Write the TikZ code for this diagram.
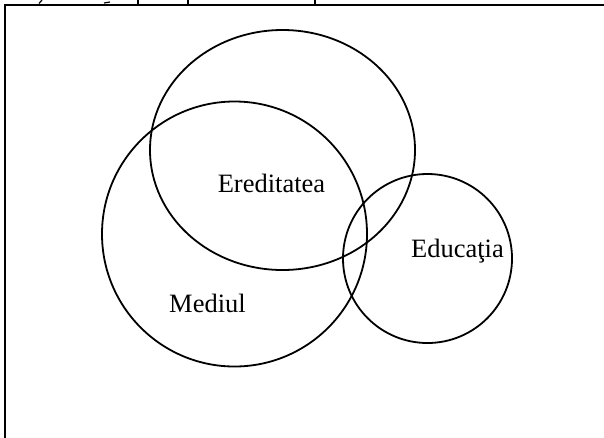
\documentclass[tikz,border=0pt]{standalone}
\usepackage{fontspec}
\setmainfont{Liberation Serif}
\usetikzlibrary{shapes.geometric}
\begin{document}
\begin{tikzpicture}[x=1pt,y=-1pt,
  ring/.style={draw, ellipse, line width=1.8pt, inner sep=0pt},
  lbl/.style={anchor=base, inner sep=0pt, font=\fontsize{26.5}{30}\selectfont},
  frame/.style={line width=2.2pt}]
\useasboundingbox (0,0) rectangle (604,437);
% frame (continues past the right and bottom edges)
\coordinate (fbl) at (5,440);
\coordinate (ftl) at (5,5);
\coordinate (ftr) at (610,5);
\draw[frame] (fbl) -- (ftl) -- (ftr);
% fragments of the cut-off row above
\coordinate (t1a) at (138,0); \coordinate (t1b) at (138,5);
\coordinate (t2a) at (188,0); \coordinate (t2b) at (188,5);
\coordinate (t3a) at (315,0); \coordinate (t3b) at (315,5);
\draw[line width=1.4pt] (t1a) -- (t1b) (t2a) -- (t2b) (t3a) -- (t3b);
\coordinate (s1a) at (39,3.5); \coordinate (s1b) at (42,0);
\draw[line width=1.2pt] (s1a) -- (s1b);
\coordinate (s2a) at (104,3); \coordinate (s2b) at (110,2);
\draw[line width=1.2pt] (s2a) -- (s2b);
% circles
\node[ring, minimum width=265pt, minimum height=240pt] (ered) at (282.5,150) {};
\node[ring, minimum width=265pt, minimum height=265pt] (med) at (234.5,234) {};
\node[ring, minimum width=169pt, minimum height=169pt] (edu) at (427.5,258.5) {};
% labels
\node[lbl] (lered) at (271.5,192) {Ereditatea};
\node[lbl] (lmed) at (207.5,312) {Mediul};
\node[lbl] (ledu) at (457.5,257) {Educaţia};
\end{tikzpicture}
\end{document}
